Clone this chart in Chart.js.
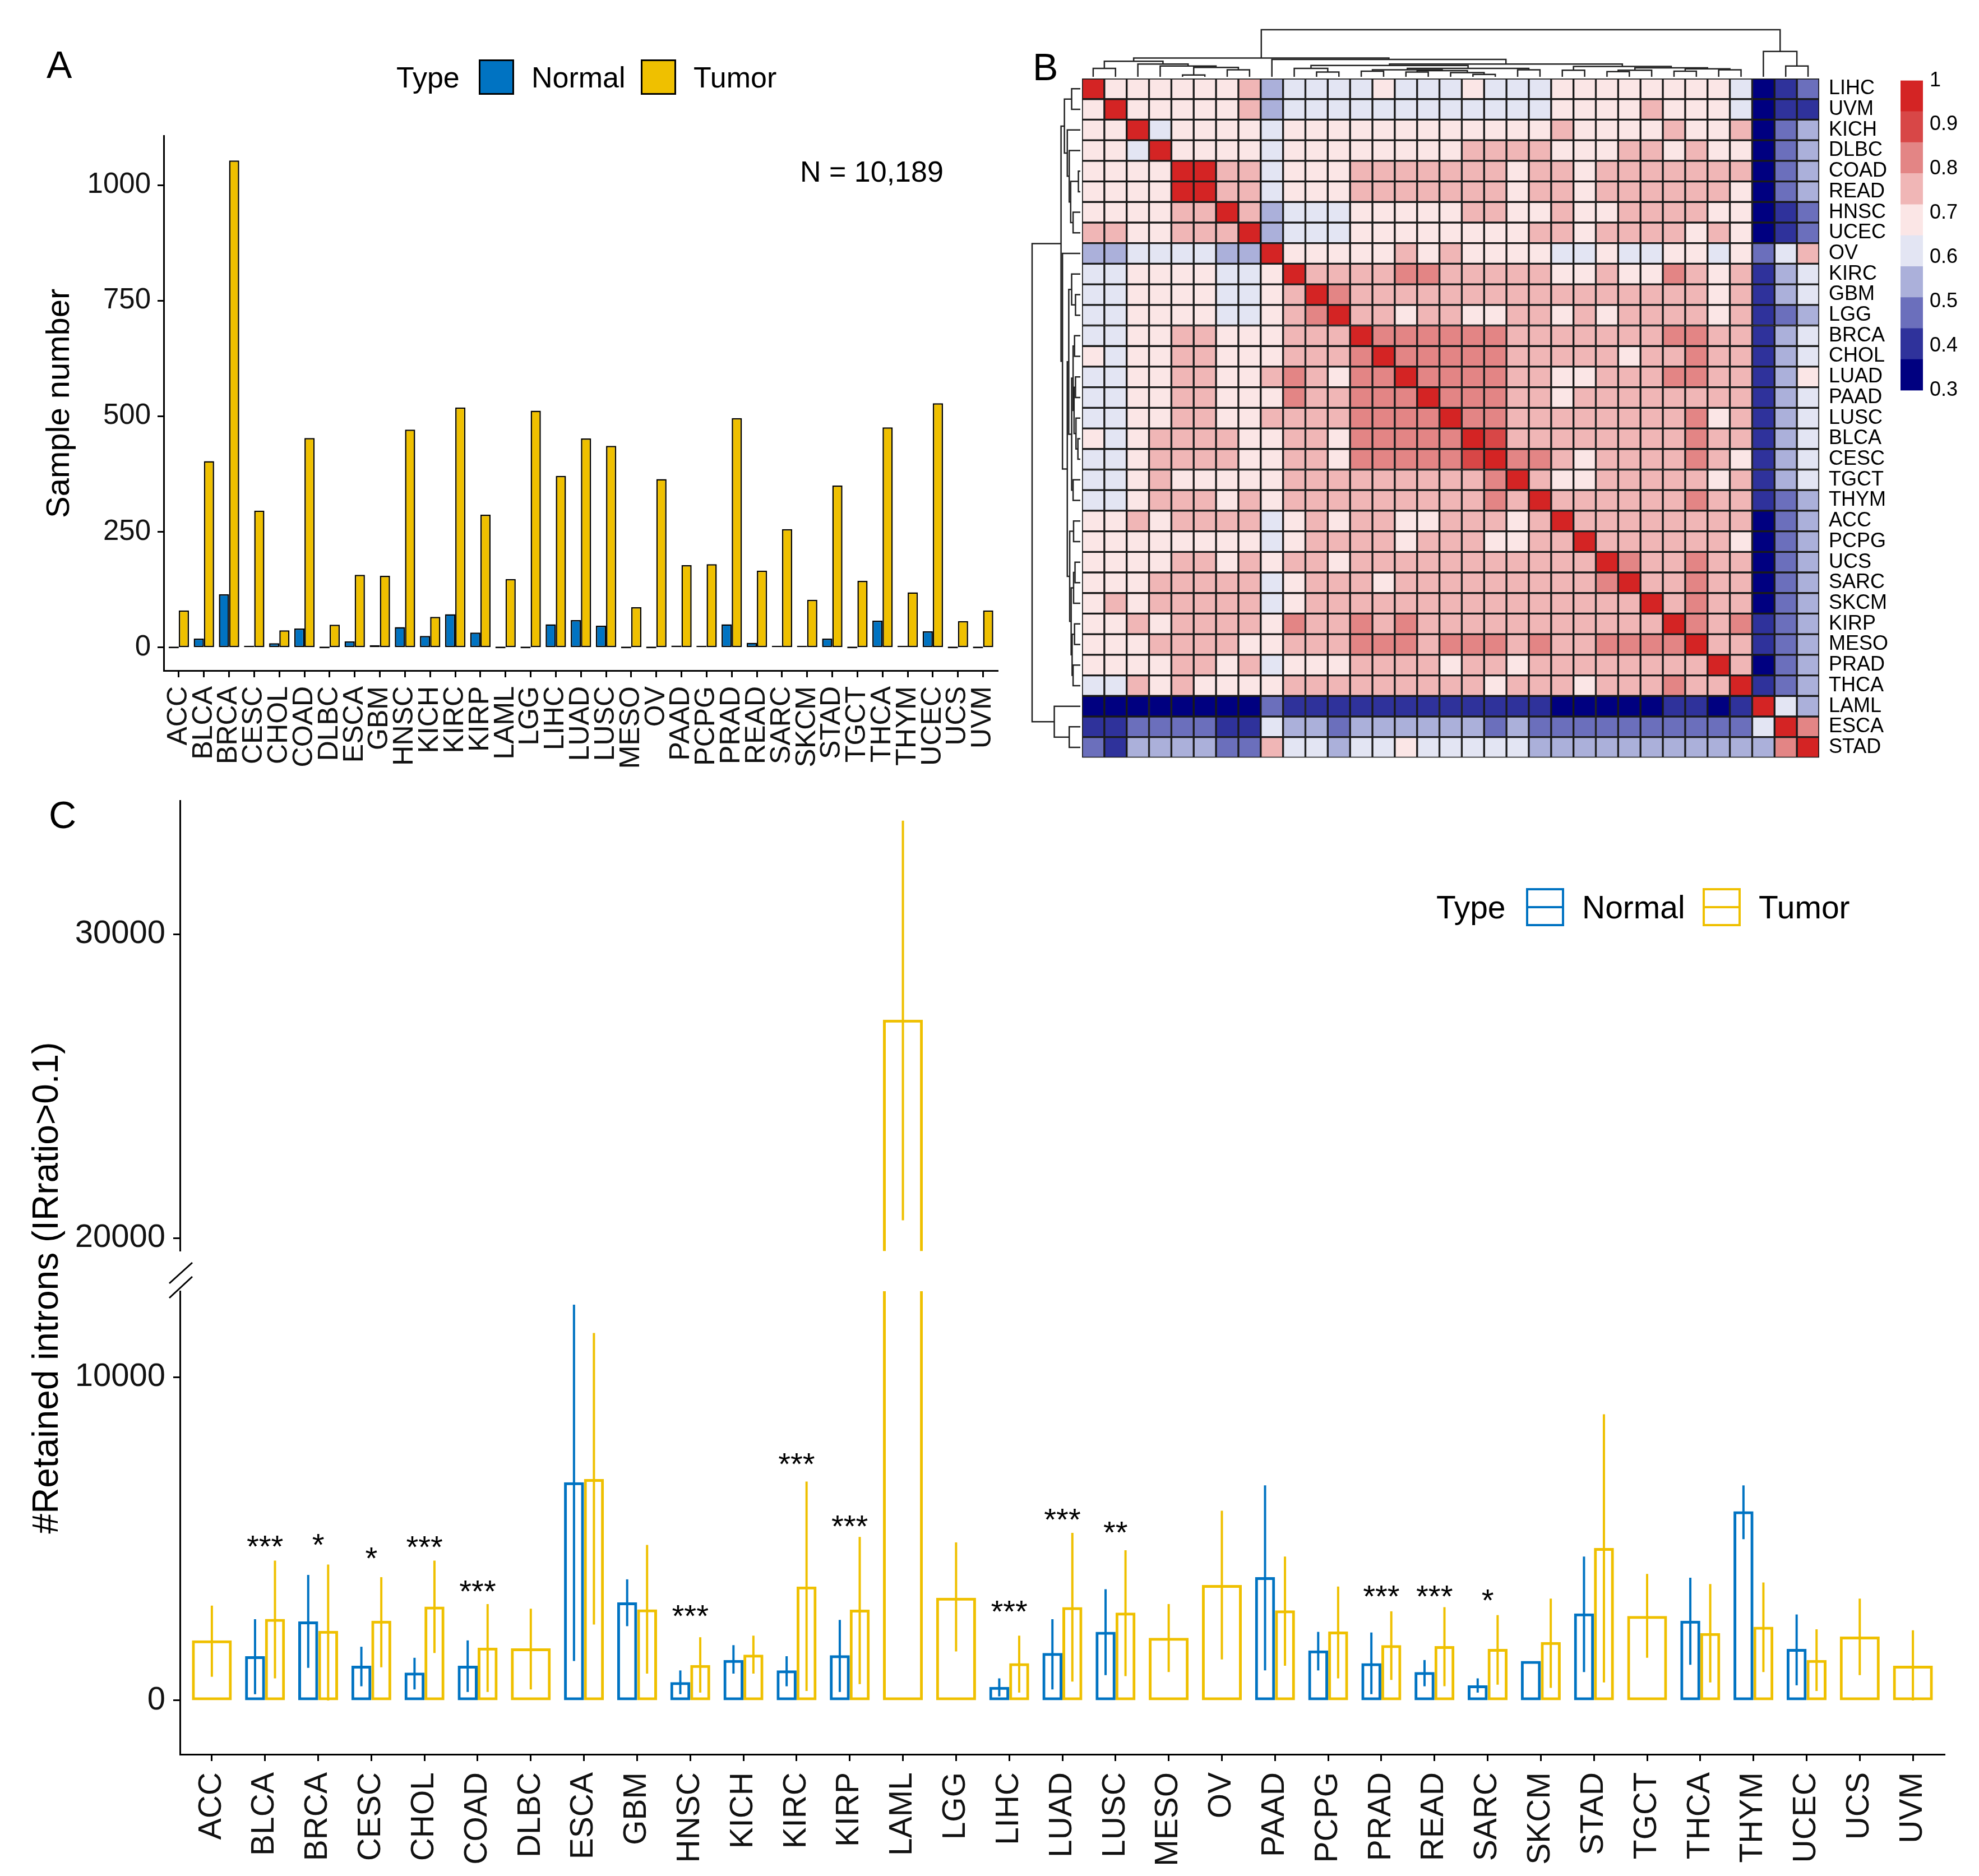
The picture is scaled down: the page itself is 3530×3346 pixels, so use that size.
<!DOCTYPE html>
<html>
<head>
<meta charset="utf-8">
<title>Intron retention across TCGA cancer types</title>
<script src="https://cdn.jsdelivr.net/npm/chart.js@4.4.1/dist/chart.umd.min.js"></script>
<style>
  body { margin: 0; width: 3530px; height: 3346px; position: relative; overflow: hidden; background: #fff;
         font-family: "Liberation Sans", Arial, sans-serif; color: #000; }
  canvas, .txt, .key { position: absolute; }
  .txt { line-height: 1; white-space: nowrap; }
  .key { box-sizing: border-box; }
  .mid { position: absolute; left: 0; right: 0; top: 28px; height: 4px; }
</style>
</head>
<body>

<!-- panel letters and legends -->
<div class="txt" style="left:83px;top:81px;font-size:68px">A</div>
<div class="txt" style="left:1842px;top:85px;font-size:68px">B</div>
<div class="txt" style="left:87px;top:1419px;font-size:68px">C</div>

<div class="txt" style="left:707px;top:112px;font-size:52px">Type</div>
<div class="key" style="left:854px;top:106px;width:63px;height:63px;background:#0073C2;border:3px solid #000"></div>
<div class="txt" style="left:948px;top:112px;font-size:52px">Normal</div>
<div class="key" style="left:1143px;top:106px;width:63px;height:63px;background:#EFC000;border:3px solid #000"></div>
<div class="txt" style="left:1237px;top:112px;font-size:52px">Tumor</div>
<div class="txt" style="left:1427px;top:280px;font-size:52px">N = 10,189</div>

<div class="txt" style="left:2562px;top:1590px;font-size:57px">Type</div>
<div class="key" style="left:2722px;top:1584px;width:68px;height:68px;border:4px solid #0073C2"><div class="mid" style="background:#0073C2"></div></div>
<div class="txt" style="left:2822px;top:1590px;font-size:57px">Normal</div>
<div class="key" style="left:3037px;top:1584px;width:68px;height:68px;border:4px solid #EFC000"><div class="mid" style="background:#EFC000"></div></div>
<div class="txt" style="left:3137px;top:1590px;font-size:57px">Tumor</div>
<div class="txt" style="left:-519px;top:2265px;width:1200px;text-align:center;font-size:64px;transform:rotate(-90deg)">#Retained introns (IRratio&gt;0.1)</div>

<canvas id="chartA" width="1830" height="1200" style="left:0;top:200px"></canvas>
<canvas id="chartB" width="1560" height="1360" style="left:1830px;top:30px"></canvas>
<canvas id="chartKey" width="160" height="620" style="left:3370px;top:110px"></canvas>
<canvas id="chartC1" width="3530" height="900" style="left:0;top:1380px"></canvas>
<canvas id="chartC2" width="3530" height="1116" style="left:0;top:2230px"></canvas>

<script>
// ---- data ----
const cancers = ['ACC','BLCA','BRCA','CESC','CHOL','COAD','DLBC','ESCA','GBM','HNSC','KICH','KIRC','KIRP',
  'LAML','LGG','LIHC','LUAD','LUSC','MESO','OV','PAAD','PCPG','PRAD','READ','SARC','SKCM','STAD','TGCT',
  'THCA','THYM','UCEC','UCS','UVM'];

// panel A: sample numbers
const normalCount = [0, 19, 115, 3, 9, 41, 0, 13, 5, 44, 25, 72, 32, 0, 0, 50, 59, 47, 0, 0, 4, 3, 50, 10,
  2, 1, 19, 0, 58, 2, 35, 0, 0];
const tumorCount = [80, 403, 1053, 296, 37, 453, 49, 157, 155, 471, 66, 519, 287, 148, 512, 371, 452, 436,
  87, 364, 178, 180, 496, 166, 256, 103, 350, 144, 476, 119, 528, 57, 80];
const countTicks = [0, 250, 500, 750, 1000];

// panel B: correlation heatmap (clustered order)
const heatNames = ['LIHC','UVM','KICH','DLBC','COAD','READ','HNSC','UCEC','OV','KIRC','GBM','LGG','BRCA',
  'CHOL','LUAD','PAAD','LUSC','BLCA','CESC','TGCT','THYM','ACC','PCPG','UCS','SARC','SKCM','KIRP','MESO',
  'PRAD','THCA','LAML','ESCA','STAD'];
const corr = [
  [1,.69,.69,.69,.69,.69,.69,.76,.55,.62,.62,.62,.62,.69,.62,.62,.62,.69,.62,.62,.62,.69,.69,.69,.69,.69,.69,.69,.69,.62,.34,.41,.48],
  [.69,1,.69,.69,.69,.69,.69,.76,.55,.62,.62,.62,.62,.62,.62,.62,.62,.62,.62,.62,.62,.69,.69,.69,.69,.76,.69,.69,.69,.62,.34,.41,.41],
  [.69,.69,1,.62,.69,.69,.69,.69,.62,.69,.69,.69,.69,.69,.69,.69,.69,.69,.69,.69,.69,.76,.69,.69,.69,.69,.76,.69,.69,.76,.34,.48,.55],
  [.69,.69,.62,1,.69,.69,.69,.69,.62,.69,.69,.69,.69,.69,.69,.69,.69,.76,.76,.76,.76,.69,.69,.69,.76,.76,.69,.76,.69,.69,.34,.48,.55],
  [.69,.69,.69,.69,1,.96,.76,.76,.62,.69,.69,.69,.76,.76,.76,.76,.76,.76,.76,.69,.76,.76,.69,.76,.76,.76,.76,.76,.76,.76,.34,.48,.55],
  [.69,.69,.69,.69,.96,1,.76,.76,.62,.69,.69,.69,.76,.76,.76,.76,.76,.76,.76,.69,.76,.76,.69,.76,.76,.76,.76,.76,.76,.69,.34,.48,.55],
  [.69,.69,.69,.69,.76,.76,1,.76,.55,.62,.62,.62,.69,.69,.69,.69,.69,.76,.76,.69,.69,.76,.69,.69,.76,.76,.76,.76,.69,.69,.34,.41,.48],
  [.76,.76,.69,.69,.76,.76,.76,1,.55,.62,.62,.62,.69,.69,.69,.69,.69,.69,.69,.69,.76,.76,.69,.76,.76,.76,.76,.69,.76,.69,.34,.41,.48],
  [.55,.55,.62,.62,.62,.62,.55,.55,1,.69,.69,.69,.69,.69,.76,.69,.76,.69,.69,.69,.69,.62,.62,.69,.62,.62,.69,.69,.62,.69,.48,.62,.76],
  [.62,.62,.69,.69,.69,.69,.62,.62,.69,1,.76,.76,.76,.76,.83,.83,.76,.76,.76,.76,.76,.69,.69,.76,.69,.69,.83,.76,.69,.76,.41,.55,.62],
  [.62,.62,.69,.69,.69,.69,.62,.62,.69,.76,1,.83,.76,.76,.76,.76,.76,.76,.76,.76,.76,.76,.76,.76,.76,.76,.76,.76,.69,.76,.41,.55,.62],
  [.62,.62,.69,.69,.69,.69,.62,.62,.69,.76,.83,1,.76,.76,.69,.76,.76,.69,.69,.76,.76,.69,.76,.69,.76,.76,.76,.76,.69,.76,.41,.48,.55],
  [.62,.62,.69,.69,.76,.76,.69,.69,.69,.76,.76,.76,1,.83,.83,.83,.83,.83,.83,.76,.76,.76,.76,.76,.76,.76,.83,.83,.76,.76,.41,.55,.62],
  [.69,.62,.69,.69,.76,.76,.69,.69,.69,.76,.76,.76,.83,1,.83,.83,.83,.83,.83,.76,.76,.76,.76,.76,.69,.76,.76,.83,.76,.76,.41,.55,.62],
  [.62,.62,.69,.69,.76,.76,.69,.69,.76,.83,.76,.69,.83,.83,1,.83,.83,.83,.83,.76,.76,.69,.69,.76,.76,.76,.83,.83,.76,.76,.41,.55,.69],
  [.62,.62,.69,.69,.76,.76,.69,.69,.69,.83,.76,.76,.83,.83,.83,1,.83,.83,.83,.76,.76,.69,.76,.76,.76,.76,.76,.76,.76,.76,.41,.55,.62],
  [.62,.62,.69,.69,.76,.76,.69,.69,.76,.76,.76,.76,.83,.83,.83,.83,1,.83,.83,.76,.76,.76,.76,.76,.76,.76,.76,.83,.69,.76,.41,.55,.62],
  [.69,.62,.69,.76,.76,.76,.76,.69,.69,.76,.76,.69,.83,.83,.83,.83,.83,1,.9,.76,.76,.76,.76,.76,.76,.76,.76,.83,.76,.76,.41,.55,.62],
  [.62,.62,.69,.76,.76,.76,.76,.69,.69,.76,.76,.69,.83,.83,.83,.83,.83,.9,1,.83,.83,.76,.69,.76,.76,.76,.76,.83,.76,.69,.41,.55,.62],
  [.62,.62,.69,.76,.69,.69,.69,.69,.69,.76,.76,.76,.76,.76,.76,.76,.76,.76,.83,1,.76,.69,.69,.76,.76,.76,.76,.76,.69,.76,.41,.55,.62],
  [.62,.62,.69,.76,.76,.76,.69,.76,.69,.76,.76,.76,.76,.76,.76,.76,.76,.76,.83,.76,1,.76,.76,.76,.76,.76,.76,.83,.76,.76,.41,.48,.55],
  [.69,.69,.76,.69,.76,.76,.76,.76,.62,.69,.76,.69,.76,.76,.69,.69,.76,.76,.76,.69,.76,1,.76,.76,.76,.76,.76,.76,.76,.76,.34,.48,.55],
  [.69,.69,.69,.69,.69,.69,.69,.69,.62,.69,.76,.76,.76,.76,.69,.76,.76,.76,.69,.69,.76,.76,1,.76,.76,.76,.76,.76,.76,.69,.34,.48,.55],
  [.69,.69,.69,.69,.76,.76,.69,.76,.69,.76,.76,.69,.76,.76,.76,.76,.76,.76,.76,.76,.76,.76,.76,1,.83,.76,.76,.83,.76,.76,.34,.48,.55],
  [.69,.69,.69,.76,.76,.76,.76,.76,.62,.69,.76,.76,.76,.69,.76,.76,.76,.76,.76,.76,.76,.76,.76,.83,1,.76,.76,.83,.76,.76,.34,.48,.55],
  [.69,.76,.69,.76,.76,.76,.76,.76,.62,.69,.76,.76,.76,.76,.76,.76,.76,.76,.76,.76,.76,.76,.76,.76,.76,1,.76,.83,.76,.76,.34,.48,.55],
  [.69,.69,.76,.69,.76,.76,.76,.76,.69,.83,.76,.76,.83,.76,.83,.76,.76,.76,.76,.76,.76,.76,.76,.76,.76,.76,1,.83,.76,.83,.41,.48,.55],
  [.69,.69,.69,.76,.76,.76,.76,.69,.69,.76,.76,.76,.83,.83,.83,.76,.83,.83,.83,.76,.83,.76,.76,.83,.83,.83,.83,1,.76,.76,.41,.48,.55],
  [.69,.69,.69,.69,.76,.76,.69,.76,.62,.69,.69,.69,.76,.76,.76,.76,.69,.76,.76,.69,.76,.76,.76,.76,.76,.76,.76,.76,1,.76,.34,.48,.55],
  [.62,.62,.76,.69,.76,.69,.69,.69,.69,.76,.76,.76,.76,.76,.76,.76,.76,.76,.69,.76,.76,.76,.69,.76,.76,.76,.83,.76,.76,1,.41,.48,.55],
  [.34,.34,.34,.34,.34,.34,.34,.34,.48,.41,.41,.41,.41,.41,.41,.41,.41,.41,.41,.41,.41,.34,.34,.34,.34,.34,.41,.41,.34,.41,1,.62,.55],
  [.41,.41,.48,.48,.48,.48,.41,.41,.62,.55,.55,.48,.55,.55,.55,.55,.55,.55,.48,.55,.48,.48,.48,.48,.48,.48,.48,.48,.48,.48,.62,1,.83],
  [.48,.41,.55,.55,.55,.55,.48,.48,.76,.62,.62,.55,.62,.62,.69,.62,.62,.62,.62,.62,.55,.55,.55,.55,.55,.55,.55,.55,.55,.55,.55,.83,1]
];
// hierarchical clustering merges, hclust style (negative = leaf, positive = earlier merge)
const treeLeft   = [-11,-10,-13,-15,-18,-17,4,3,-20,8,-22,-24,12,-27,-29,14,13,11,2,19,-9,-1,-5,-7,23,-4,-3,22,28,-32,-31,29];
const treeRight  = [-12,1,-14,-16,-19,5,6,7,-21,9,-23,-25,-26,-28,-30,15,16,17,10,18,20,-2,-6,-8,24,25,26,27,21,-33,30,31];
const treeHeight = [.10,.18,.12,.10,.05,.09,.13,.15,.15,.18,.14,.11,.14,.12,.15,.17,.19,.22,.24,.27,.37,.18,.04,.15,.20,.23,.27,.33,.40,.23,.54,1];
const colorBreaks = [0.3, 0.37, 0.44, 0.51, 0.58, 0.65, 0.72, 0.79, 0.86, 0.93, 1];
const colorTicks = [0.3, 0.4, 0.5, 0.6, 0.7, 0.8, 0.9, 1];

// panel C: retained introns, mean with error range
const normalIR   = [null,1370,2446,1076,861,1076,null,6751,3033,568,1252,930,1399,null,null,421,1468,2123,null,null,3816,1546,1155,881,470,1223,2691,null,2466,5851,1595,null,null];
const normalLow  = [null,196,1008,440,342,264,null,1223,2299,196,832,440,264,null,null,127,342,783,null,null,930,930,196,440,245,null,881,null,1106,4990,470,null,null];
const normalHigh = [null,2515,3885,1663,1321,1859,null,12244,3748,930,1712,1370,2495,null,null,685,2515,3444,null,null,6654,2123,2104,1252,685,null,4452,null,3796,6654,2661,null,null];
const tumorIR    = [1859,2524,2153,2466,2906,1634,1614,6849,2818,1096,1419,3523,2808,27190,3180,1155,2886,2720,1937,3571,2789,2133,1712,1683,1595,1810,4716,2613,2084,2280,1252,1977,1076];
const tumorLow   = [734,685,0,1027,1468,264,342,2348,832,245,832,294,509,20590,1517,245,587,753,881,1272,1076,685,636,440,489,391,558,1321,558,881,294,783,0];
const tumorHigh  = [2935,4325,4207,3816,4325,2984,2838,11370,4814,1957,2006,6771,5059,33740,4892,2006,5186,4648,2984,5871,4452,3523,2759,2886,2642,3151,8855,3914,3601,3650,2202,3151,2172];
const sigLabel = ['','***','*','*','***','***','','','','***','','***','***','','','***','***','**','','','','','***','***','*','','','','','','','',''];
const sigY     = [null,4990,5039,4628,4971,3601,null,null,null,2838,null,7534,5626,null,null,2984,5822,5430,null,null,null,null,3444,3444,3327,null,null,null,null,null,null,null,null];

// ---- styles ----
const BLUE = '#0073C2', GOLD = '#EFC000';
const colorBins = ['#000080','#2F329B','#6B6FBC','#ABB0DA','#E3E5F3','#FBE6E6','#F0B6B6','#E38585','#D84747','#D42424'];

Chart.defaults.font.family = '"Liberation Sans", Arial, sans-serif';
Chart.defaults.color = '#111';
Chart.defaults.animation = false;
Chart.defaults.responsive = false;
Chart.defaults.plugins.legend.display = false;
Chart.defaults.plugins.tooltip.enabled = false;

function binColor(v) {
  for (let k = 0; k < colorBins.length; k++) {
    if (v <= colorBreaks[k + 1] + 1e-9) return colorBins[k];
  }
  return colorBins[colorBins.length - 1];
}

function axisGrid(len) {
  return { drawOnChartArea: false, drawTicks: true, tickLength: len, tickWidth: 3, tickColor: '#000', color: '#000', offset: false };
}
const axisBorder = { display: true, color: '#000', width: 3 };

function categoryAxis(size, pad, height) {
  return {
    type: 'linear', min: -0.6, max: cancers.length - 0.4, offset: false,
    afterBuildTicks: ax => { ax.ticks = cancers.map((c, i) => ({ value: i })); },
    afterFit: ax => { ax.height = height; },
    ticks: { autoSkip: false, minRotation: 90, maxRotation: 90, padding: pad, font: { size: size },
             callback: v => cancers[v] },
    grid: axisGrid(12), border: axisBorder
  };
}

// ---- panel A ----
new Chart(document.getElementById('chartA'), {
  type: 'bar',
  data: {
    datasets: [
      { label: 'Normal', data: cancers.map((c, i) => ({ x: i, y: normalCount[i] })), backgroundColor: BLUE },
      { label: 'Tumor', data: cancers.map((c, i) => ({ x: i, y: tumorCount[i] })), backgroundColor: GOLD }
    ].map(d => Object.assign(d, { borderColor: '#000', borderWidth: 2.5, borderSkipped: false,
                                  categoryPercentage: 0.81, barPercentage: 1, minBarLength: 3 }))
  },
  options: {
    devicePixelRatio: 1,
    layout: { padding: { top: 42, right: 25, left: 0, bottom: 0 } },
    scales: {
      x: categoryAxis(50, 16, 204),
      y: {
        min: -50, max: 1106,
        afterBuildTicks: ax => { ax.ticks = countTicks.map(v => ({ value: v })); },
        afterFit: ax => { ax.width = 292; },
        ticks: { font: { size: 51 }, padding: 12, callback: v => String(v) },
        title: { display: true, text: 'Sample number', font: { size: 58 }, color: '#000', padding: { top: 72, bottom: 0 } },
        grid: axisGrid(11), border: axisBorder
      }
    }
  }
});

// ---- panel B: heatmap with dendrograms ----
function drawTree(ctx, leafPos, base, span, horizontal) {
  const nodePos = [];
  const info = ref => ref < 0 ? { p: leafPos(-ref - 1), h: 0 } : { p: nodePos[ref - 1], h: treeHeight[ref - 1] };
  treeLeft.forEach((l, k) => {
    const a = info(l), b = info(treeRight[k]);
    nodePos[k] = (a.p + b.p) / 2;
    const ha = base - a.h * span, hb = base - b.h * span, hn = base - treeHeight[k] * span;
    ctx.beginPath();
    if (horizontal) {
      ctx.moveTo(a.p, ha); ctx.lineTo(a.p, hn); ctx.lineTo(b.p, hn); ctx.lineTo(b.p, hb);
    } else {
      ctx.moveTo(ha, a.p); ctx.lineTo(hn, a.p); ctx.lineTo(hn, b.p); ctx.lineTo(hb, b.p);
    }
    ctx.stroke();
  });
}

const dendroPlugin = {
  id: 'dendro',
  afterDraw(chart) {
    const { ctx, chartArea: a, scales: { x, y } } = chart;
    ctx.save();
    ctx.strokeStyle = '#222';
    ctx.lineWidth = 2.5;
    drawTree(ctx, i => x.getPixelForValue(i), a.top - 3, 84, true);
    drawTree(ctx, i => y.getPixelForValue(i + 0.5), a.left - 3, 86, false);
    ctx.restore();
  }
};

new Chart(document.getElementById('chartB'), {
  type: 'bar',
  data: {
    labels: heatNames,
    datasets: heatNames.map((name, r) => ({
      label: name,
      data: heatNames.map(() => [r, r + 1]),
      backgroundColor: corr[r].map(binColor),
      borderColor: '#1a1a1a', borderWidth: 2, borderSkipped: false,
      grouped: false, categoryPercentage: 1, barPercentage: 1
    }))
  },
  options: {
    devicePixelRatio: 1,
    layout: { padding: { left: 100, top: 110, bottom: 32, right: 0 } },
    scales: {
      x: { type: 'category', display: false },
      y: {
        type: 'linear', min: 0, max: heatNames.length, reverse: true, position: 'right',
        afterBuildTicks: ax => { ax.ticks = heatNames.map((n, i) => ({ value: i + 0.5 })); },
        afterFit: ax => { ax.width = 145; },
        ticks: { autoSkip: false, padding: 17, font: { size: 36 }, color: '#000',
                 callback: v => heatNames[Math.floor(v)] },
        grid: { display: false, drawTicks: false }, border: { display: false }
      }
    }
  },
  plugins: [dendroPlugin]
});

// colour key
new Chart(document.getElementById('chartKey'), {
  type: 'bar',
  data: {
    labels: [''],
    datasets: colorBins.map((c, k) => ({
      data: [[colorBreaks[k], colorBreaks[k + 1]]], backgroundColor: c, borderWidth: 0,
      grouped: false, categoryPercentage: 1, barPercentage: 1
    }))
  },
  options: {
    devicePixelRatio: 1,
    layout: { padding: { left: 20, top: 33, bottom: 30, right: 0 } },
    scales: {
      x: { display: false },
      y: {
        min: 0.3, max: 1, position: 'right',
        afterBuildTicks: ax => { ax.ticks = colorTicks.map(v => ({ value: v })); },
        afterFit: ax => { ax.width = 100; },
        ticks: { padding: 12, font: { size: 36 }, color: '#000', callback: v => v === 1 ? '1' : v.toFixed(1) },
        grid: { display: false, drawTicks: false }, border: { display: false }
      }
    }
  }
});

// ---- panel C: broken axis, two stacked charts ----
function irDatasets() {
  return [
    { label: 'Normal', data: cancers.map((c, i) => ({ x: i, y: normalIR[i] })), borderColor: BLUE,
      errLow: normalLow, errHigh: normalHigh },
    { label: 'Tumor', data: cancers.map((c, i) => ({ x: i, y: tumorIR[i] })), borderColor: GOLD,
      errLow: tumorLow, errHigh: tumorHigh }
  ].map(d => Object.assign(d, { backgroundColor: 'rgba(0,0,0,0)', borderWidth: 5, borderSkipped: false,
                                skipNull: true, categoryPercentage: 0.75, barPercentage: 1, clip: 0 }));
}

const errorBarPlugin = {
  id: 'errorBars',
  afterDatasetsDraw(chart) {
    const { ctx, chartArea: a, scales: { y } } = chart;
    ctx.save();
    ctx.beginPath();
    ctx.rect(a.left, a.top, a.right - a.left, a.bottom - a.top);
    ctx.clip();
    chart.data.datasets.forEach((ds, di) => {
      const meta = chart.getDatasetMeta(di);
      ds.errLow.forEach((lo, i) => {
        const hi = ds.errHigh[i];
        if (lo == null || hi == null) return;
        const bx = meta.data[i].x;
        ctx.strokeStyle = ds.borderColor;
        ctx.lineWidth = 4;
        ctx.beginPath();
        ctx.moveTo(bx, y.getPixelForValue(lo));
        ctx.lineTo(bx, y.getPixelForValue(hi));
        ctx.stroke();
      });
    });
    ctx.restore();
  }
};

const starPlugin = {
  id: 'stars',
  afterDatasetsDraw(chart) {
    const { ctx, scales: { x, y } } = chart;
    const size = 56;
    ctx.save();
    ctx.fillStyle = '#000';
    ctx.font = size + 'px "Liberation Sans", Arial, sans-serif';
    ctx.textAlign = 'center';
    ctx.textBaseline = 'alphabetic';
    sigLabel.forEach((s, i) => {
      if (!s) return;
      ctx.fillText(s, x.getPixelForValue(i), y.getPixelForValue(sigY[i]) + 0.57 * size);
    });
    ctx.restore();
  }
};

const breakPlugin = {
  id: 'axisBreak',
  afterDraw(chart) {
    const { ctx, chartArea: a } = chart;
    ctx.save();
    ctx.strokeStyle = '#000';
    ctx.lineWidth = 3;
    [[-14, -51], [12, -26]].forEach(([y0, y1]) => {
      ctx.beginPath();
      ctx.moveTo(a.left - 19, a.top + y0);
      ctx.lineTo(a.left + 22, a.top + y1);
      ctx.stroke();
    });
    ctx.restore();
  }
};

function irYAxis(min, max, ticks) {
  return {
    min: min, max: max,
    afterBuildTicks: ax => { ax.ticks = ticks.map(v => ({ value: v })); },
    afterFit: ax => { ax.width = 321; },
    ticks: { font: { size: 58 }, padding: 14, callback: v => String(v) },
    grid: axisGrid(12), border: axisBorder
  };
}

new Chart(document.getElementById('chartC1'), {
  type: 'bar',
  data: { datasets: irDatasets() },
  options: {
    devicePixelRatio: 1,
    layout: { padding: { top: 29, bottom: 17, right: 61, left: 0 } },
    scales: {
      x: Object.assign(categoryAxis(57, 20, 0), { display: false }),
      y: irYAxis(19580, 34385, [20000, 30000])
    }
  },
  plugins: [errorBarPlugin]
});

new Chart(document.getElementById('chartC2'), {
  type: 'bar',
  data: { datasets: irDatasets() },
  options: {
    devicePixelRatio: 1,
    layout: { padding: { top: 73, bottom: 0, right: 61, left: 0 } },
    scales: {
      x: categoryAxis(57, 20, 217),
      y: irYAxis(-1665, 12660, [0, 10000])
    }
  },
  plugins: [errorBarPlugin, starPlugin, breakPlugin]
});
</script>
</body>
</html>
